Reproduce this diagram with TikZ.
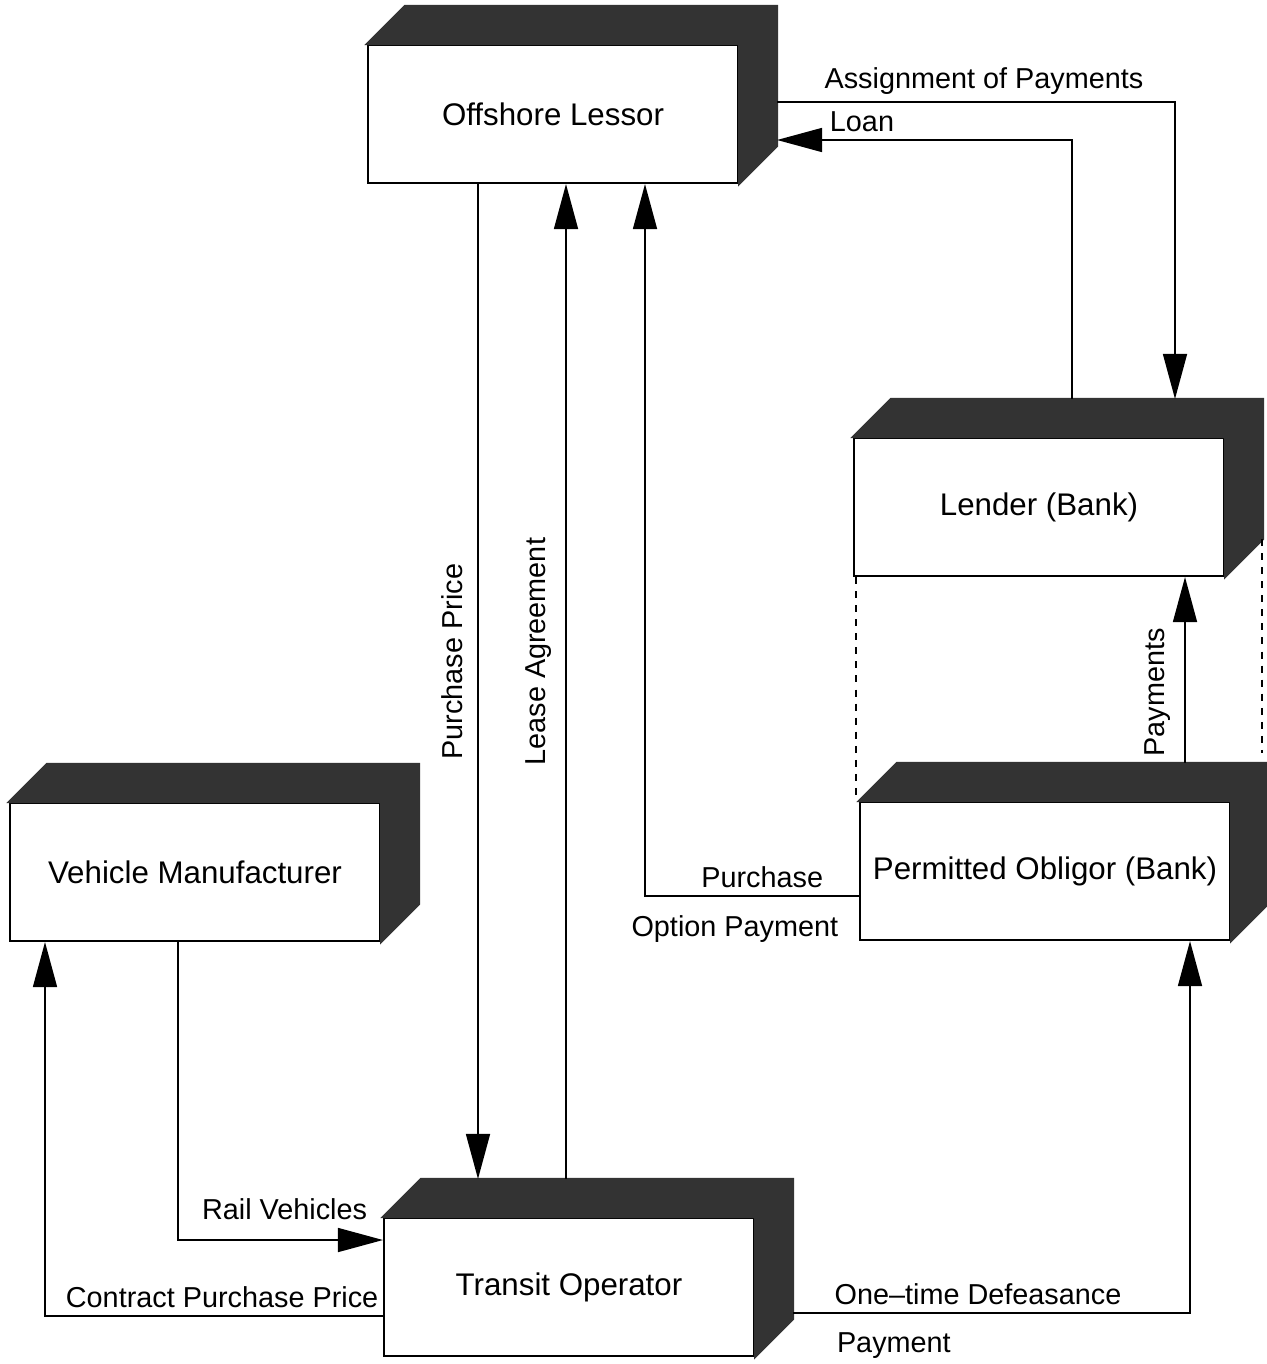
\documentclass[tikz,border=0pt]{standalone}
\usepackage{fontspec}
\setmainfont{Liberation Sans}
\usetikzlibrary{arrows.meta,calc}

\begin{document}
\begin{tikzpicture}[x=0.1mm, y=-0.1mm,
    box/.style={draw=black, line width=0.6pt, fill=white, minimum width=37mm,
        minimum height=13.8mm, inner sep=0pt, font=\fontsize{8.9}{10.7}\selectfont},
    depth/.style={fill=black!80, draw=black!80, line width=0.6pt},
    flow/.style={line width=0.45pt, -{Triangle[length=4.5mm, width=2.4mm]}},
    lbl/.style={font=\fontsize{8.2}{9.8}\selectfont, inner sep=2pt},
    vlbl/.style={lbl, rotate=90, anchor=south, inner sep=4pt}]
    \useasboundingbox (0,0) rectangle (1267,1364);

    % Boxes
    \node[box] (lessor)   at (553,114)  {Offshore Lessor};
    \node[box] (lender)   at (1039,507) {Lender (Bank)};
    \node[box] (obligor)  at (1045,871) {Permitted Obligor (Bank)};
    \node[box] (maker)    at (195,872)  {Vehicle Manufacturer};
    \node[box] (operator) at (569,1287) {Transit Operator};

    % Depth of the boxes
    \foreach \b in {lessor,lender,obligor,maker,operator}
        \filldraw[depth] (\b.north west) -- ++(38,-38) -- ($(\b.north east)+(38,-38)$)
            -- ($(\b.south east)+(38,-38)$) -- (\b.south east) -- (\b.north east) -- cycle;

    % Purchase Price / Lease Agreement
    \draw[flow] ([xshift=-7.5mm]lessor.south) -- node[vlbl, pos=0.48] (pp) {Purchase Price}
        ([xshift=-9.1mm, yshift=3.8mm]operator.north);
    \draw[flow] ([xshift=-0.3mm, yshift=3.8mm]operator.north) -- node[vlbl, pos=0.53] (la) {Lease Agreement}
        ([xshift=1.3mm]lessor.south);

    % Purchase Option Payment
    \draw[flow] ([yshift=-2.5mm]obligor.west) -| node[lbl, above, pos=0.226] (pu) {Purchase}
        node[lbl, below=1.2mm, pos=0.29] (op) {Option Payment} ([xshift=9.2mm]lessor.south);

    % Assignment of Payments / Loan
    \draw[flow] ([xshift=3.8mm, yshift=1.2mm]lessor.east) -| node[lbl, above, pos=0.26] (ap) {Assignment of Payments}
        ([xshift=13.6mm, yshift=3.8mm]lender.north);
    \draw[flow] ([xshift=3.3mm, yshift=3.8mm]lender.north) |- node[lbl, above, pos=0.856] (ln) {Loan}
        ([xshift=3.8mm, yshift=-2.6mm]lessor.east);

    % Payments
    \draw[flow] ([xshift=14mm, yshift=3.8mm]obligor.north) -- node[vlbl, pos=0.38] (pm) {Payments}
        ([xshift=14.6mm]lender.south);

    % Dashed links
    \coordinate (lendc) at ([xshift=3.7mm, yshift=3.8mm]lender.south east);
    \coordinate (oblc)  at ([yshift=4.8mm]obligor.north east);
    \draw[dash pattern=on 2pt off 2pt, line width=0.4pt] ([xshift=0.3mm]lender.south west) -- ([xshift=0.3mm]lender.south west |- obligor.north);
    \draw[dash pattern=on 2pt off 2pt, line width=0.4pt] (lendc) -- (lendc |- oblc);

    % Rail Vehicles / Contract Purchase Price
    \draw[flow] ([xshift=-1.7mm]maker.south) |- node[lbl, above=1.2mm, pos=0.76] (rv) {Rail Vehicles}
        ([yshift=4.7mm]operator.west);
    \draw[flow] ([yshift=-2.9mm]operator.west) -| node[lbl, above, pos=0.238] (cp) {Contract Purchase Price}
        ([xshift=-15mm]maker.south);

    % One-time Defeasance Payment
    \draw[flow] ([xshift=3.8mm, yshift=-2.6mm]operator.east) -| node[lbl, above, pos=0.233] (od) {One–time Defeasance}
        node[lbl, below=1.2mm, pos=0.127] (dp) {Payment} ([xshift=14.5mm]obligor.south);
\end{tikzpicture}
\end{document}
